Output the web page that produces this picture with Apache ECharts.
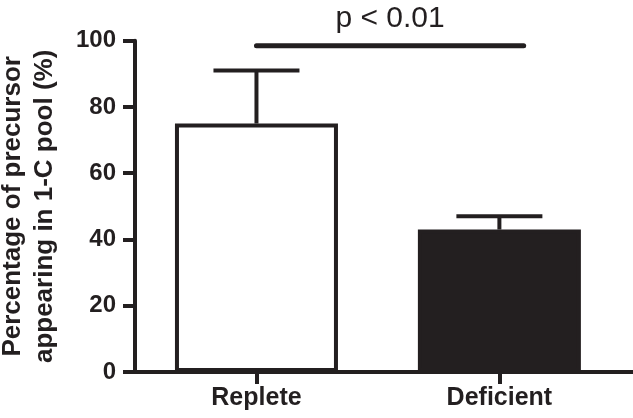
<!DOCTYPE html>
<html>
<head>
<meta charset="utf-8">
<script src="https://cdn.jsdelivr.net/npm/echarts@6/dist/echarts.min.js"></script>
<style>html,body{margin:0;padding:0;background:#fff;}#c{width:633px;height:418px;}</style>
</head>
<body>
<div id="c"></div>
<script>
var categories = ['Replete', 'Deficient'];
var means = [75, 43];
var upperErr = [91, 47];
var barColors = ['#ffffff', '#231f20'];
var sigFrom = 0, sigTo = 1.1, sigY = 98.5, sigText = 'p < 0.01';
var yTicks = [0, 20, 40, 60, 80, 100];

var ink = '#231f20';
var chart = echarts.init(document.getElementById('c'));

var barData = means.map(function (m, i) {
  return { value: [i, m], itemStyle: { color: barColors[i] } };
});
var errData = means.map(function (m, i) { return [i, m, upperErr[i]]; });

chart.setOption({
  animation: false,
  grid: { left: 135, right: 0, top: 40.7, bottom: 46, outerBoundsMode: 'none', containLabel: false },
  xAxis: {
    type: 'value', min: -0.5, max: 1.55,
    splitLine: { show: false },
    axisLine: { show: true, onZero: false, lineStyle: { color: ink, width: 4 } },
    axisTick: { show: true, customValues: [0, 1], length: 12, lineStyle: { color: ink, width: 4 } },
    axisLabel: {
      customValues: [0, 1], margin: 14,
      formatter: function (v) { return categories[Math.round(v)]; },
      fontFamily: 'Liberation Sans, Arial', fontWeight: 'bold', fontSize: 25, color: ink
    }
  },
  yAxis: {
    type: 'value', min: 0, max: 100, interval: 20,
    splitLine: { show: false },
    axisLine: { show: true, onZero: false, lineStyle: { color: ink, width: 4 } },
    axisTick: { show: true, length: 12, lineStyle: { color: ink, width: 4 } },
    axisLabel: { margin: 19, fontFamily: 'Liberation Sans, Arial', fontWeight: 'bold', fontSize: 24, color: ink },
    name: 'Percentage of precursor\nappearing in 1-C pool (%)',
    nameLocation: 'middle', nameRotate: 90, nameGap: 74,
    nameTextStyle: { fontFamily: 'Liberation Sans, Arial', fontWeight: 'bold', fontSize: 26, color: ink, lineHeight: 32 }
  },
  series: [
    {
      type: 'bar', data: barData, barWidth: 163,
      itemStyle: { borderColor: ink, borderWidth: 4 }
    },
    {
      type: 'custom', data: errData,
      renderItem: function (params, api) {
        var x = api.value(0);
        var top = api.coord([x, api.value(2)]);
        var base = api.coord([x, api.value(1)]);
        var hw = 43;
        var st = { stroke: ink, lineWidth: 4 };
        return { type: 'group', children: [
          { type: 'line', shape: { x1: top[0], y1: top[1], x2: base[0], y2: base[1] }, style: st },
          { type: 'line', shape: { x1: top[0] - hw, y1: top[1], x2: top[0] + hw, y2: top[1] }, style: st }
        ]};
      },
      z: 1
    },
    {
      type: 'custom', data: [[sigFrom, sigTo, sigY]],
      renderItem: function (params, api) {
        var a = api.coord([api.value(0), api.value(2)]);
        var b = api.coord([api.value(1), api.value(2)]);
        return { type: 'group', children: [
          { type: 'line', shape: { x1: a[0], y1: a[1], x2: b[0], y2: b[1] }, style: { stroke: ink, lineWidth: 5, lineCap: 'round' } },
          { type: 'text', style: { x: (a[0] + b[0]) / 2, y: a[1] - 12, text: sigText, align: 'center', verticalAlign: 'bottom',
            fill: ink, fontFamily: 'Liberation Sans, Arial', fontSize: 30 } }
        ]};
      }
    }
  ]
});
</script>
</body>
</html>
